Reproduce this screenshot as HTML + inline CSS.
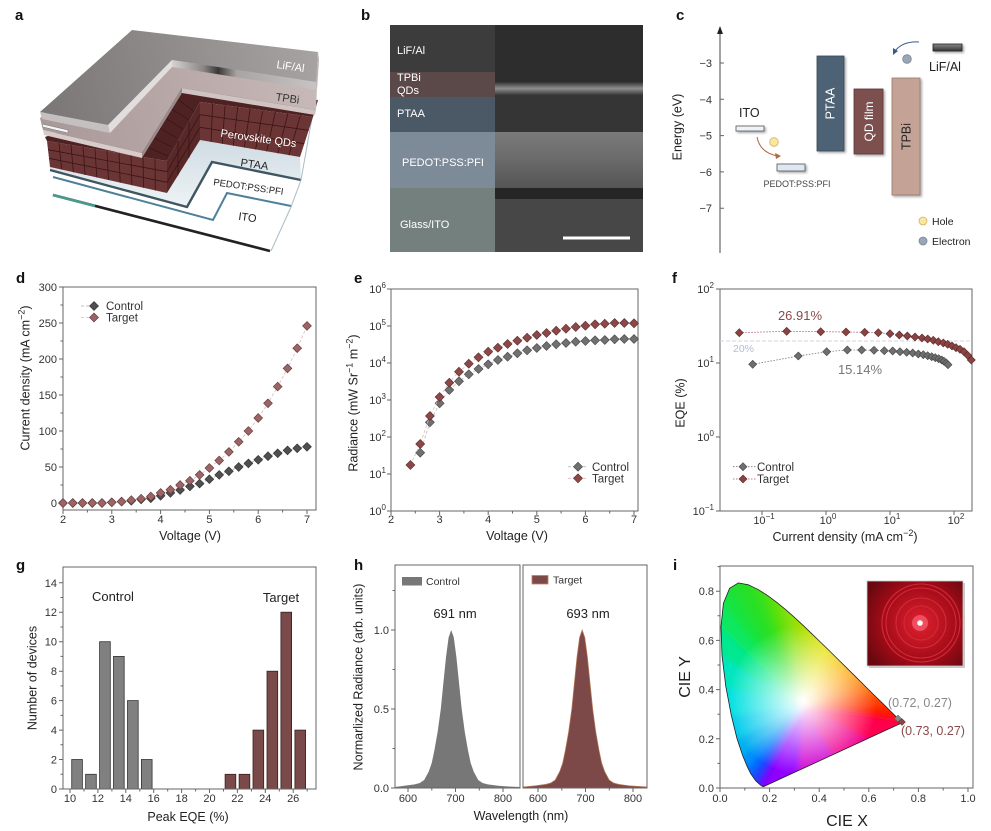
<!DOCTYPE html>
<html><head><meta charset="utf-8"><style>
html,body{margin:0;padding:0;background:#fff;}
svg{display:block;}
text{font-family:"Liberation Sans",Arial,sans-serif;}
.pl{font-size:15px;font-weight:bold;fill:#111;}
.tk{font-size:11px;fill:#333;}
.at{font-size:12.5px;fill:#222;}
.fr{fill:none;stroke:#666;stroke-width:1;}
.tc{stroke:#666;stroke-width:1;fill:none;}
</style></head><body>
<svg width="991" height="831" viewBox="0 0 991 831" xmlns="http://www.w3.org/2000/svg">
<defs>
<marker id="mdC" markerWidth="10" markerHeight="10" refX="5" refY="5" markerUnits="userSpaceOnUse"><path d="M5,0.6L9.4,5L5,9.4L0.6,5Z" fill="#4f4f4f" stroke="#2e2e2e" stroke-width="0.6"/></marker>
<marker id="mdT" markerWidth="10" markerHeight="10" refX="5" refY="5" markerUnits="userSpaceOnUse"><path d="M5,0.6L9.4,5L5,9.4L0.6,5Z" fill="#9c6464" stroke="#5e3434" stroke-width="0.6"/></marker>
<marker id="meC" markerWidth="10" markerHeight="10" refX="5" refY="5" markerUnits="userSpaceOnUse"><path d="M5,0.5L9.5,5L5,9.5L0.5,5Z" fill="#707070" stroke="#444" stroke-width="0.6"/></marker>
<marker id="meT" markerWidth="10" markerHeight="10" refX="5" refY="5" markerUnits="userSpaceOnUse"><path d="M5,0.5L9.5,5L5,9.5L0.5,5Z" fill="#8c4848" stroke="#5a2a2a" stroke-width="0.6"/></marker>
<marker id="mfC" markerWidth="10" markerHeight="10" refX="5" refY="5" markerUnits="userSpaceOnUse"><path d="M5,1L9,5L5,9L1,5Z" fill="#6e6e6e" stroke="#444" stroke-width="0.6"/></marker>
<marker id="mfT" markerWidth="10" markerHeight="10" refX="5" refY="5" markerUnits="userSpaceOnUse"><path d="M5,1L9,5L5,9L1,5Z" fill="#8a4242" stroke="#5a2a2a" stroke-width="0.6"/></marker>
<linearGradient id="lifTop" x1="40" y1="112" x2="320" y2="40" gradientUnits="userSpaceOnUse"><stop offset="0" stop-color="#7a7675"/><stop offset="0.5" stop-color="#908c8b"/><stop offset="1" stop-color="#a8a4a3"/></linearGradient>
<linearGradient id="lifFr" x1="172" y1="0" x2="316" y2="0" gradientUnits="userSpaceOnUse"><stop offset="0" stop-color="#d6d2d1"/><stop offset="0.22" stop-color="#8a8685"/><stop offset="0.32" stop-color="#3a3636"/><stop offset="0.45" stop-color="#a8a4a3"/><stop offset="1" stop-color="#c8c4c3"/></linearGradient>
<linearGradient id="tpTop" x1="40" y1="130" x2="320" y2="70" gradientUnits="userSpaceOnUse"><stop offset="0" stop-color="#a89898"/><stop offset="1" stop-color="#c8bab8"/></linearGradient>
<linearGradient id="ptaa" x1="0" y1="140" x2="0" y2="207" gradientUnits="userSpaceOnUse"><stop offset="0" stop-color="#cfdce3"/><stop offset="1" stop-color="#eef3f5"/></linearGradient>
<linearGradient id="pedotSem" x1="0" y1="132" x2="0" y2="188" gradientUnits="userSpaceOnUse"><stop offset="0" stop-color="#7a7a7a"/><stop offset="0.5" stop-color="#6a6a6a"/><stop offset="1" stop-color="#555"/></linearGradient>
<linearGradient id="brightLine" x1="0" y1="82" x2="0" y2="95" gradientUnits="userSpaceOnUse"><stop offset="0" stop-color="#333"/><stop offset="0.5" stop-color="#8e8e8e"/><stop offset="1" stop-color="#3a3a3a"/></linearGradient>
<linearGradient id="lifbar" x1="0" y1="44" x2="0" y2="51" gradientUnits="userSpaceOnUse"><stop offset="0" stop-color="#888"/><stop offset="1" stop-color="#333"/></linearGradient>
<filter id="sh" x="-20%" y="-20%" width="150%" height="150%"><feDropShadow dx="1.5" dy="1.5" stdDeviation="1.2" flood-opacity="0.35"/></filter>
<filter id="bl" x="-10%" y="-10%" width="120%" height="120%"><feGaussianBlur stdDeviation="3"/></filter>
<clipPath id="cie"><path d="M763.2,786.8L760.8,785.3L758.8,783.6L755.7,780.7L750.8,773.8L747.2,766.6L742.6,755.4L737,738.6L731.3,715.4L725.8,686.5L722,655.6L721,626.9L723.4,603.4L729.6,588.3L738.4,582.9L748.3,584.8L758.4,589.7L767.8,595.7L776.9,602.4L785.9,609.8L794.8,617.7L803.7,625.9L812.5,634.4L821.4,643L830.1,651.5L838.7,660L847.1,668.3L855.1,676.2L862.6,683.6L869.5,690.5L875.5,696.4L885.1,705.8L891.5,712.2L895.6,716.2L898.3,718.9L902.2,722.7Z"/></clipPath>
<radialGradient id="wp" cx="802.7" cy="700" r="75" gradientUnits="userSpaceOnUse"><stop offset="0" stop-color="#fff" stop-opacity="1"/><stop offset="0.35" stop-color="#fff" stop-opacity="0.65"/><stop offset="1" stop-color="#fff" stop-opacity="0"/></radialGradient>
<radialGradient id="photo" cx="920" cy="623" r="60" gradientUnits="userSpaceOnUse"><stop offset="0" stop-color="#e02030"/><stop offset="0.6" stop-color="#a50c18"/><stop offset="1" stop-color="#6a0810"/></radialGradient>
</defs>
<rect width="991" height="831" fill="#fff"/>

<!-- ===== Panel a ===== -->
<text class="pl" x="15" y="20">a</text>
<polygon points="50,167 167,193 200,140 300,157 301,180 212,162 187,207 50,170" fill="url(#ptaa)"/>
<polyline points="53,195 270,251" stroke="#222" stroke-width="2.6" fill="none"/>
<polyline points="53,195 95,206" stroke="#4a9a90" stroke-width="2.6" fill="none"/>
<polyline points="53,177 213,220 227,193 291,206" stroke="#4f8099" stroke-width="2" fill="none"/>
<polyline points="50,170 187,207 212,162 301,180" stroke="#3f5662" stroke-width="2.4" fill="none"/>
<polyline points="312,118 301,180 291,207 271,251" stroke="#a9bcc6" stroke-width="1" fill="none"/>
<polygon points="45,137 185,85 318,100 313,117 200,102 167,161 47,141" fill="#4e2222"/>
<polygon points="47,141 167,161 167,193 50,167" fill="#6b3535"/>
<polygon points="167,161 200,102 200,140 167,193" fill="#582727"/>
<polygon points="200,102 313,117 300,157 200,140" fill="#6b3535"/>
<g stroke="#3a1515" stroke-width="0.8" fill="none">
<path d="M59,143L61.7,169.6M71,145L73.4,172.2M83,147L85.1,174.8M95,149L96.8,177.4M107,151L108.5,180M119,153L120.2,182.6M131,155L131.9,185.2M143,157L143.6,187.8M155,159L155.3,190.4M48,149.7L167,171.7M49,158.3L167,182.3"/>
<path d="M212.6,103.7L211.1,141.9M225.1,105.3L222.2,143.8M237.7,107L233.3,145.7M250.2,108.7L244.4,147.6M262.8,110.3L255.6,149.5M275.3,112L266.7,151.4M287.9,113.7L277.8,153.3M300.4,115.3L288.9,155.2M200,114.7L308.7,130.3M200,127.3L304.3,143.7"/>
<path d="M178,141.3L178,175.3M189,121.7L189,157.7M167,171.7L200,114.7M167,182.3L200,127.3"/>
<path d="M176,97.8L194,111.4M170,107.5L189,120.3M164,117.3L183,129.2M158,127L177,138M152,136.8L172,147M146,146.5L168,156"/>
</g>
<polygon points="40,118 135,36 318,64 316,110 182,88 142,153 43,130" fill="url(#tpTop)"/>
<polygon points="43,130 142,153 142,158 44,135" fill="#d8cccb"/>
<polygon points="142,153 182,88 182,93 142,158" fill="#9a8a8a"/>
<polygon points="182,88 316,110 315,115 182,93" fill="#d0c4c2"/>
<polygon points="42,124 68,130 68,133 43,127" fill="#f4f4f4" stroke="#777" stroke-width="0.5"/>
<polygon points="40,112 132,30 318,52 316,82 172,60 108,125" fill="url(#lifTop)"/>
<polygon points="318,52 319,60 317,90 316,82" fill="#b8b4b3"/>
<polygon points="40,112 108,125 110,133 42,119" fill="#c4c0bf"/>
<polygon points="108,125 172,60 172,67 110,133" fill="#e2dedd"/>
<polygon points="172,60 316,82 317,90 172,67" fill="url(#lifFr)"/>
<g font-size="11" text-anchor="middle">
<text x="290" y="70" fill="#fff" transform="rotate(8 290 70)">LiF/Al</text>
<text x="287" y="102" fill="#333" transform="rotate(8 287 102)">TPBi</text>
<text x="258" y="142" fill="#fff" transform="rotate(8 258 142)">Perovskite QDs</text>
<text x="254" y="168" fill="#222" transform="rotate(8 254 168)">PTAA</text>
<text x="248" y="190" fill="#222" font-size="9.5" transform="rotate(8 248 190)">PEDOT:PSS:PFI</text>
<text x="247" y="221" fill="#222" transform="rotate(8 247 221)">ITO</text>
</g>

<!-- ===== Panel b ===== -->
<text class="pl" x="361" y="20">b</text>
<rect x="390" y="25" width="253" height="227" fill="#2d2d2d"/>
<rect x="495" y="82" width="148" height="13" fill="url(#brightLine)"/>
<rect x="495" y="95" width="148" height="37" fill="#353535"/>
<rect x="495" y="132" width="148" height="56" fill="url(#pedotSem)"/>
<rect x="495" y="188" width="148" height="11" fill="#262626"/>
<rect x="495" y="199" width="148" height="53" fill="#474747"/>
<rect x="390" y="25" width="105" height="47" fill="#3c3c3c"/>
<rect x="390" y="72" width="105" height="25" fill="#5b4848"/>
<rect x="390" y="97" width="105" height="35" fill="#4b5866"/>
<rect x="390" y="132" width="105" height="56" fill="#7d8a98"/>
<rect x="390" y="188" width="105" height="64" fill="#74807e"/>
<g fill="#fff" font-size="11">
<text x="397" y="54">LiF/Al</text>
<text x="397" y="81">TPBi</text>
<text x="397" y="94">QDs</text>
<text x="397" y="117">PTAA</text>
<text x="402" y="166">PEDOT:PSS:PFI</text>
<text x="400" y="228">Glass/ITO</text>
</g>
<rect x="563" y="236.5" width="67" height="3" fill="#fff"/>

<!-- ===== Panel c ===== -->
<text class="pl" x="676" y="20">c</text>
<line x1="720" y1="253" x2="720" y2="32" stroke="#444" stroke-width="1"/>
<polygon points="717,34 720,26 723,34" fill="#222"/>
<path class="tc" d="M720,63h4M720,99.3h4M720,135.6h4M720,171.9h4M720,208.2h4"/>
<g class="tk" text-anchor="end">
<text x="712" y="67">−3</text><text x="712" y="103.3">−4</text><text x="712" y="139.6">−5</text><text x="712" y="175.9">−6</text><text x="712" y="212.2">−7</text>
</g>
<text class="at" transform="translate(681.5,127) rotate(-90)" text-anchor="middle">Energy (eV)</text>
<g filter="url(#sh)">
<rect x="736" y="126" width="28" height="5" fill="#eef3f8" stroke="#555" stroke-width="0.8"/>
<rect x="777" y="164" width="28" height="7" fill="#dde8f2" stroke="#555" stroke-width="0.8"/>
<rect x="817" y="56" width="27" height="95" fill="#4d6275" stroke="#3a4a5a" stroke-width="0.8"/>
<rect x="854" y="89" width="29" height="65" fill="#7d5050" stroke="#5a3838" stroke-width="0.8"/>
<rect x="892" y="78" width="28" height="117" fill="#c4a296" stroke="#9a7a70" stroke-width="0.8"/>
<rect x="933" y="44" width="29" height="7" fill="url(#lifbar)" stroke="#222" stroke-width="0.8"/>
</g>
<text x="834.5" y="103.5" fill="#fff" font-size="12.5" text-anchor="middle" transform="rotate(-90 834.5 103.5)">PTAA</text>
<text x="873" y="121.5" fill="#fff" font-size="12" text-anchor="middle" transform="rotate(-90 873 121.5)">QD film</text>
<text x="910.5" y="136.5" fill="#222" font-size="12.5" text-anchor="middle" transform="rotate(-90 910.5 136.5)">TPBi</text>
<text x="739" y="117" font-size="12.5" fill="#222">ITO</text>
<text x="797" y="187" font-size="9" fill="#444" text-anchor="middle">PEDOT:PSS:PFI</text>
<text x="929" y="71" font-size="12.5" fill="#222">LiF/Al</text>
<circle cx="774" cy="142" r="4.3" fill="#fbe6a0" stroke="#d4b060" stroke-width="0.8"/>
<circle cx="907" cy="59" r="4.3" fill="#9aa5b5" stroke="#7a8595" stroke-width="0.8"/>
<path d="M757,137 Q760,153 778,156" stroke="#b06a40" stroke-width="1" fill="none"/>
<polygon points="781,156 775,153 776,159" fill="#b06a40"/>
<path d="M919,42 Q903,41 895,51" stroke="#3a5a8a" stroke-width="1" fill="none"/>
<polygon points="893,55 893,48 898,51" fill="#3a5a8a"/>
<circle cx="923" cy="221" r="4" fill="#fbe6a0" stroke="#d4b060" stroke-width="0.8"/>
<text x="932" y="225" font-size="10.5" fill="#222">Hole</text>
<circle cx="923" cy="241" r="4" fill="#9aa5b5" stroke="#7a8595" stroke-width="0.8"/>
<text x="932" y="245" font-size="10.5" fill="#222">Electron</text>

<!-- ===== Panel d ===== -->
<text class="pl" x="16" y="283">d</text>
<rect class="fr" x="63" y="287" width="253" height="223"/>
<path class="tc" d="M63,510v4M111.8,510v4M160.6,510v4M209.4,510v4M258.2,510v4M307,510v4M87.4,510v2.5M136.2,510v2.5M185,510v2.5M233.8,510v2.5M282.6,510v2.5M63,287h-4M63,323h-4M63,359h-4M63,395h-4M63,431h-4M63,467h-4M63,503h-4M63,305h-2.5M63,341h-2.5M63,377h-2.5M63,413h-2.5M63,449h-2.5M63,485h-2.5"/>
<g class="tk" text-anchor="end"><text x="57" y="291">300</text><text x="57" y="327">250</text><text x="57" y="363">200</text><text x="57" y="399">150</text><text x="57" y="435">100</text><text x="57" y="471">50</text><text x="57" y="507">0</text></g>
<g class="tk" text-anchor="middle"><text x="63" y="523">2</text><text x="111.8" y="523">3</text><text x="160.6" y="523">4</text><text x="209.4" y="523">5</text><text x="258.2" y="523">6</text><text x="307" y="523">7</text></g>
<text class="at" x="190" y="540" text-anchor="middle">Voltage (V)</text>
<text class="at" transform="translate(29.5,378) rotate(-90)" text-anchor="middle">Current density (mA cm<tspan dy="-5" font-size="9">−2</tspan><tspan dy="5">)</tspan></text>
<polyline fill="none" stroke="#aaa" stroke-width="0.8" stroke-dasharray="3,2" marker-start="url(#mdC)" marker-mid="url(#mdC)" marker-end="url(#mdC)" points="63,503 72.8,503 82.5,503 92.3,503 102,503 111.8,502.3 121.6,501.6 131.3,500.8 141.1,499.4 150.8,498.3 160.6,495.8 170.4,492.9 180.1,490 189.9,486.4 199.6,483.6 209.4,479.2 219.2,474.9 228.9,471.3 238.7,467 248.4,463.4 258.2,459.8 268,456.2 277.7,453.3 287.5,450.4 297.2,448.3 307,446.8"/>
<polyline fill="none" stroke="#e2b4bc" stroke-width="0.8" stroke-dasharray="3,2" marker-start="url(#mdT)" marker-mid="url(#mdT)" marker-end="url(#mdT)" points="63,503 72.8,503 82.5,503 92.3,503 102,503 111.8,502.3 121.6,501.6 131.3,500.1 141.1,498.7 150.8,496.5 160.6,492.9 170.4,489.7 180.1,485 189.9,480.7 199.6,474.9 209.4,468 219.2,460.5 228.9,451.9 238.7,441.8 248.4,431 258.2,418 268,403.3 277.7,386.6 287.5,368.4 297.2,348.2 307,325.9"/>
<line x1="81" y1="306" x2="101" y2="306" stroke="#aaa" stroke-width="0.8" stroke-dasharray="3,2"/>
<path d="M94,301.5l4.5,4.5l-4.5,4.5l-4.5,-4.5z" fill="#4f4f4f" stroke="#2e2e2e" stroke-width="0.6"/>
<text x="106" y="310" font-size="11.5" fill="#333">Control</text>
<line x1="81" y1="317.5" x2="101" y2="317.5" stroke="#e2b4bc" stroke-width="0.8" stroke-dasharray="3,2"/>
<path d="M94,313l4.5,4.5l-4.5,4.5l-4.5,-4.5z" fill="#9c6464" stroke="#5e3434" stroke-width="0.6"/>
<text x="106" y="321.5" font-size="11.5" fill="#333">Target</text>

<!-- ===== Panel e ===== -->
<text class="pl" x="354" y="283">e</text>
<rect class="fr" x="391" y="289" width="247" height="222"/>
<path class="tc" d="M391,511v4M439.6,511v4M488.2,511v4M536.8,511v4M585.4,511v4M634,511v4M415.3,511v2.5M463.9,511v2.5M512.5,511v2.5M561.1,511v2.5M609.7,511v2.5M391,289h-4M391,326h-4M391,363h-4M391,400h-4M391,437h-4M391,474h-4M391,511h-4"/>
<g class="tk" text-anchor="end">
<text x="386" y="293">10<tspan dy="-5" font-size="8">6</tspan></text>
<text x="386" y="330">10<tspan dy="-5" font-size="8">5</tspan></text>
<text x="386" y="367">10<tspan dy="-5" font-size="8">4</tspan></text>
<text x="386" y="404">10<tspan dy="-5" font-size="8">3</tspan></text>
<text x="386" y="441">10<tspan dy="-5" font-size="8">2</tspan></text>
<text x="386" y="478">10<tspan dy="-5" font-size="8">1</tspan></text>
<text x="386" y="515">10<tspan dy="-5" font-size="8">0</tspan></text>
</g>
<g class="tk" text-anchor="middle"><text x="391" y="523">2</text><text x="439.6" y="523">3</text><text x="488.2" y="523">4</text><text x="536.8" y="523">5</text><text x="585.4" y="523">6</text><text x="634" y="523">7</text></g>
<text class="at" x="517" y="540" text-anchor="middle">Voltage (V)</text>
<text class="at" transform="translate(357.5,403) rotate(-90)" text-anchor="middle">Radiance (mW Sr<tspan dy="-5" font-size="9">−1</tspan><tspan dy="5"> m</tspan><tspan dy="-5" font-size="9">−2</tspan><tspan dy="5">)</tspan></text>
<polyline fill="none" stroke="#bbb" stroke-width="0.8" stroke-dasharray="3,2" marker-start="url(#meC)" marker-mid="url(#meC)" marker-end="url(#meC)" points="420.2,452.7 429.9,422.3 439.6,403.3 449.3,390 459,381.3 468.8,374.3 478.5,369 488.2,364.3 497.9,360 507.6,356.7 517.4,353.3 527.1,350.3 536.8,348 546.5,346 556.2,344.3 566,343 575.7,341.7 585.4,341 595.1,340.3 604.8,340 614.6,339.3 624.3,339 634,339"/>
<polyline fill="none" stroke="#e0b8c0" stroke-width="0.8" stroke-dasharray="3,2" marker-start="url(#meT)" marker-mid="url(#meT)" marker-end="url(#meT)" points="410.4,465 420.2,444 429.9,416 439.6,397 449.3,382.7 459,371.7 468.8,363.7 478.5,357.3 488.2,351.7 497.9,347.7 507.6,344 517.4,340.7 527.1,337.7 536.8,335 546.5,333 556.2,330.7 566,328.7 575.7,327 585.4,325.7 595.1,324.3 604.8,323.7 614.6,323 624.3,323 634,323.3"/>
<line x1="568" y1="466.7" x2="588" y2="466.7" stroke="#bbb" stroke-width="0.8" stroke-dasharray="3,2"/>
<path d="M578,462.2l4.5,4.5l-4.5,4.5l-4.5,-4.5z" fill="#707070" stroke="#444" stroke-width="0.6"/>
<text x="592" y="471" font-size="11.5" fill="#333">Control</text>
<line x1="568" y1="478.3" x2="588" y2="478.3" stroke="#e0b8c0" stroke-width="0.8" stroke-dasharray="3,2"/>
<path d="M578,473.8l4.5,4.5l-4.5,4.5l-4.5,-4.5z" fill="#8c4848" stroke="#5a2a2a" stroke-width="0.6"/>
<text x="592" y="482.5" font-size="11.5" fill="#333">Target</text>

<!-- ===== Panel f ===== -->
<text class="pl" x="672" y="283">f</text>
<rect class="fr" x="720" y="289" width="252" height="222"/>
<path class="tc" d="M762,511v4M826,511v4M890,511v4M954,511v4M720,289h-4M720,363h-4M720,437h-4M720,511h-4"/>
<g class="tk" text-anchor="end">
<text x="714" y="293">10<tspan dy="-5" font-size="8">2</tspan></text>
<text x="714" y="367">10<tspan dy="-5" font-size="8">1</tspan></text>
<text x="714" y="441">10<tspan dy="-5" font-size="8">0</tspan></text>
<text x="714" y="515">10<tspan dy="-5" font-size="8">−1</tspan></text>
</g>
<g class="tk" text-anchor="middle">
<text x="764" y="524">10<tspan dy="-5" font-size="8">−1</tspan></text>
<text x="828" y="524">10<tspan dy="-5" font-size="8">0</tspan></text>
<text x="892" y="524">10<tspan dy="-5" font-size="8">1</tspan></text>
<text x="956" y="524">10<tspan dy="-5" font-size="8">2</tspan></text>
</g>
<text class="at" x="845" y="541" text-anchor="middle">Current density (mA cm<tspan dy="-5" font-size="9">−2</tspan><tspan dy="5">)</tspan></text>
<text class="at" transform="translate(684.5,403) rotate(-90)" text-anchor="middle">EQE (%)</text>
<line x1="720" y1="341" x2="972" y2="341" stroke="#d4d4d8" stroke-width="1" stroke-dasharray="4,2"/>
<text x="733" y="352" font-size="10.5" fill="#b4bcd4">20%</text>
<polyline fill="none" stroke="#777" stroke-width="0.8" stroke-dasharray="1.5,1.5" marker-start="url(#mfC)" marker-mid="url(#mfC)" marker-end="url(#mfC)" points="752.7,364.3 798.3,356 826.7,351.7 847.3,350 861.7,350 874,350.3 884.3,350.7 892.7,351 900,351.7 906.7,352.3 912.7,353 918.3,354 923.3,354.7 927.7,355.7 931.7,356.7 935.3,357.7 938.7,358.7 941.7,360 944,361.3 946.3,363 948,364.7"/>
<polyline fill="none" stroke="#b0506a" stroke-width="0.8" stroke-dasharray="1.5,1.5" marker-start="url(#mfT)" marker-mid="url(#mfT)" marker-end="url(#mfT)" points="739.3,332.7 786.7,331.3 820.7,331.7 846,332 864.7,332.3 878.3,332.7 890,333.7 899.3,335 907.3,336 915,337 922,338 927.7,339 933.3,340.3 938.3,341.7 943.3,343 947.7,344.3 952,346 956,347.7 960,349.3 964,351.7 967.7,355.3 971.3,360"/>
<text x="800" y="320" font-size="13" fill="#8a4a4a" text-anchor="middle">26.91%</text>
<text x="860" y="374" font-size="13" fill="#777" text-anchor="middle">15.14%</text>
<line x1="733" y1="466.7" x2="757" y2="466.7" stroke="#777" stroke-width="0.8" stroke-dasharray="1.5,1.5"/>
<path d="M743,462.7l4,4l-4,4l-4,-4z" fill="#6e6e6e" stroke="#444" stroke-width="0.6"/>
<text x="757" y="471" font-size="11.5" fill="#333">Control</text>
<line x1="733" y1="479" x2="757" y2="479" stroke="#b0506a" stroke-width="0.8" stroke-dasharray="1.5,1.5"/>
<path d="M743,475l4,4l-4,4l-4,-4z" fill="#8a4242" stroke="#5a2a2a" stroke-width="0.6"/>
<text x="757" y="483" font-size="11.5" fill="#333">Target</text>

<!-- ===== Panel g ===== -->
<text class="pl" x="16" y="570">g</text>
<g fill="#808080" stroke="#333" stroke-width="0.8">
<rect x="71.7" y="759.5" width="10.7" height="29.5"/>
<rect x="85.6" y="774.3" width="10.7" height="14.7"/>
<rect x="99.6" y="641.7" width="10.7" height="147.3"/>
<rect x="113.5" y="656.4" width="10.7" height="132.6"/>
<rect x="127.5" y="700.6" width="10.7" height="88.4"/>
<rect x="141.4" y="759.5" width="10.7" height="29.5"/>
</g>
<g fill="#7a4a4a" stroke="#3a2020" stroke-width="0.8">
<rect x="225.1" y="774.3" width="10.7" height="14.7"/>
<rect x="239.1" y="774.3" width="10.7" height="14.7"/>
<rect x="253" y="730.1" width="10.7" height="58.9"/>
<rect x="267" y="671.2" width="10.7" height="117.8"/>
<rect x="280.9" y="612.2" width="10.7" height="176.8"/>
<rect x="294.9" y="730.1" width="10.7" height="58.9"/>
</g>
<rect class="fr" x="63" y="567" width="253" height="222"/>
<path class="tc" d="M70,789v4M97.9,789v4M125.8,789v4M153.7,789v4M181.6,789v4M209.5,789v4M237.4,789v4M265.3,789v4M293.2,789v4M84,789v2.5M111.9,789v2.5M139.8,789v2.5M167.7,789v2.5M195.6,789v2.5M223.5,789v2.5M251.4,789v2.5M279.3,789v2.5M307.2,789v2.5M63,789h-4M63,759.5h-4M63,730.1h-4M63,700.6h-4M63,671.2h-4M63,641.7h-4M63,612.2h-4M63,582.8h-4M63,774.3h-2.5M63,744.8h-2.5M63,715.4h-2.5M63,685.9h-2.5M63,656.4h-2.5M63,627h-2.5M63,597.5h-2.5"/>
<g class="tk" text-anchor="end"><text x="57" y="793">0</text><text x="57" y="763.5">2</text><text x="57" y="734.1">4</text><text x="57" y="704.6">6</text><text x="57" y="675.2">8</text><text x="57" y="645.7">10</text><text x="57" y="616.2">12</text><text x="57" y="586.8">14</text></g>
<g class="tk" text-anchor="middle"><text x="70" y="802">10</text><text x="97.9" y="802">12</text><text x="125.8" y="802">14</text><text x="153.7" y="802">16</text><text x="181.6" y="802">18</text><text x="209.5" y="802">20</text><text x="237.4" y="802">22</text><text x="265.3" y="802">24</text><text x="293.2" y="802">26</text></g>
<text x="113" y="601" font-size="13" fill="#222" text-anchor="middle">Control</text>
<text x="281" y="602" font-size="13" fill="#222" text-anchor="middle">Target</text>
<text class="at" x="188" y="821" text-anchor="middle">Peak EQE (%)</text>
<text class="at" transform="translate(36.5,678) rotate(-90)" text-anchor="middle">Number of devices</text>

<!-- ===== Panel h ===== -->
<text class="pl" x="354" y="570">h</text>
<path fill="#777" d="M395,787L404.2,785.8L414.6,784.4L419.8,783L424.2,780L428.7,771.6L431.7,763.1L434.4,750.2L437.6,732.1L440.8,709L443.4,682.8L446,657.1L448.6,637.5L451.2,630L453.8,637.5L456.4,657.1L459,682.8L461.7,709L464.8,732.1L468,750.2L470.7,763.1L473.7,771.6L478.2,780L482.6,783L487.8,784.4L498.2,785.8L508.7,786.5L520,787L520,788L395,788Z"/>
<path fill="#7d4848" stroke="#b87a55" stroke-width="0.7" d="M523,787L535.2,785.8L545.6,784.4L550.8,783L555.2,780L559.7,771.6L562.7,763.1L565.4,750.2L568.6,732.1L571.8,709L574.4,682.8L577,657.1L579.6,637.5L582.2,630L584.8,637.5L587.4,657.1L590,682.8L592.7,709L595.8,732.1L599,750.2L601.7,763.1L604.7,771.6L609.2,780L613.6,783L618.8,784.4L629.2,785.8L639.7,786.5L647,787L647,788L523,788Z"/>
<rect class="fr" x="395" y="565" width="125" height="223"/>
<rect class="fr" x="523" y="565" width="124" height="223"/>
<path class="tc" d="M395,788h-4M395,709h-4M395,630h-4M395,748.5h-2.5M395,669.5h-2.5M395,590.5h-2.5M408,788v4M455.5,788v4M503,788v4M431.8,788v2.5M479.3,788v2.5M538,788v4M585.5,788v4M633,788v4M561.8,788v2.5M609.3,788v2.5"/>
<g class="tk" text-anchor="end"><text x="389" y="792">0.0</text><text x="389" y="713">0.5</text><text x="389" y="634">1.0</text></g>
<g class="tk" text-anchor="middle"><text x="408" y="802">600</text><text x="455.5" y="802">700</text><text x="503" y="802">800</text><text x="538" y="802">600</text><text x="585.5" y="802">700</text><text x="633" y="802">800</text></g>
<rect x="402" y="577" width="20" height="8.5" fill="#777"/>
<text x="426" y="585" font-size="10.5" fill="#333">Control</text>
<rect x="532" y="575.5" width="16" height="8.5" fill="#7d4848" stroke="#c08060" stroke-width="0.8"/>
<text x="553" y="583.5" font-size="10.5" fill="#333">Target</text>
<text x="455" y="618" font-size="13" fill="#222" text-anchor="middle">691 nm</text>
<text x="588" y="618" font-size="13" fill="#222" text-anchor="middle">693 nm</text>
<text class="at" x="521" y="820" text-anchor="middle">Wavelength (nm)</text>
<text class="at" transform="translate(362.5,677) rotate(-90)" text-anchor="middle">Normarlized Radiance (arb. units)</text>

<!-- ===== Panel i ===== -->
<text class="pl" x="673" y="570">i</text>
<g clip-path="url(#cie)">
<g filter="url(#bl)"><g transform="translate(802.7,706) scale(1.15) translate(-802.7,-706)" stroke-width="0.8" stroke-linejoin="round">
<path d="M802.7,706L763.2,786.8L760.8,785.3Z" fill="#7000ff" stroke="#7000ff"/>
<path d="M802.7,706L760.8,785.3L758.8,783.6Z" fill="#5a10ff" stroke="#5a10ff"/>
<path d="M802.7,706L758.8,783.6L755.7,780.7Z" fill="#3a20ff" stroke="#3a20ff"/>
<path d="M802.7,706L755.7,780.7L750.8,773.8Z" fill="#1848ff" stroke="#1848ff"/>
<path d="M802.7,706L750.8,773.8L747.2,766.6Z" fill="#0070ff" stroke="#0070ff"/>
<path d="M802.7,706L747.2,766.6L742.6,755.4Z" fill="#0090f8" stroke="#0090f8"/>
<path d="M802.7,706L742.6,755.4L737,738.6Z" fill="#00b0f0" stroke="#00b0f0"/>
<path d="M802.7,706L737,738.6L731.3,715.4Z" fill="#00ccec" stroke="#00ccec"/>
<path d="M802.7,706L731.3,715.4L725.8,686.5Z" fill="#00e0e0" stroke="#00e0e0"/>
<path d="M802.7,706L725.8,686.5L722,655.6Z" fill="#00e6c0" stroke="#00e6c0"/>
<path d="M802.7,706L722,655.6L721,626.9Z" fill="#00e890" stroke="#00e890"/>
<path d="M802.7,706L721,626.9L723.4,603.4Z" fill="#08e860" stroke="#08e860"/>
<path d="M802.7,706L723.4,603.4L729.6,588.3Z" fill="#18e440" stroke="#18e440"/>
<path d="M802.7,706L729.6,588.3L738.4,582.9Z" fill="#20e030" stroke="#20e030"/>
<path d="M802.7,706L738.4,582.9L748.3,584.8Z" fill="#28e028" stroke="#28e028"/>
<path d="M802.7,706L748.3,584.8L758.4,589.7Z" fill="#30e020" stroke="#30e020"/>
<path d="M802.7,706L758.4,589.7L767.8,595.7Z" fill="#40e018" stroke="#40e018"/>
<path d="M802.7,706L767.8,595.7L776.9,602.4Z" fill="#58e010" stroke="#58e010"/>
<path d="M802.7,706L776.9,602.4L785.9,609.8Z" fill="#70e010" stroke="#70e010"/>
<path d="M802.7,706L785.9,609.8L794.8,617.7Z" fill="#88e008" stroke="#88e008"/>
<path d="M802.7,706L794.8,617.7L803.7,625.9Z" fill="#a0e000" stroke="#a0e000"/>
<path d="M802.7,706L803.7,625.9L812.5,634.4Z" fill="#b8e000" stroke="#b8e000"/>
<path d="M802.7,706L812.5,634.4L821.4,643Z" fill="#d0e000" stroke="#d0e000"/>
<path d="M802.7,706L821.4,643L830.1,651.5Z" fill="#e4e000" stroke="#e4e000"/>
<path d="M802.7,706L830.1,651.5L838.7,660Z" fill="#f0d000" stroke="#f0d000"/>
<path d="M802.7,706L838.7,660L847.1,668.3Z" fill="#f8b800" stroke="#f8b800"/>
<path d="M802.7,706L847.1,668.3L855.1,676.2Z" fill="#ffa000" stroke="#ffa000"/>
<path d="M802.7,706L855.1,676.2L862.6,683.6Z" fill="#ff8800" stroke="#ff8800"/>
<path d="M802.7,706L862.6,683.6L869.5,690.5Z" fill="#ff7000" stroke="#ff7000"/>
<path d="M802.7,706L869.5,690.5L875.5,696.4Z" fill="#ff5800" stroke="#ff5800"/>
<path d="M802.7,706L875.5,696.4L885.1,705.8Z" fill="#ff4000" stroke="#ff4000"/>
<path d="M802.7,706L885.1,705.8L891.5,712.2Z" fill="#ff2800" stroke="#ff2800"/>
<path d="M802.7,706L891.5,712.2L895.6,716.2Z" fill="#ff1800" stroke="#ff1800"/>
<path d="M802.7,706L895.6,716.2L898.3,718.9Z" fill="#ff1010" stroke="#ff1010"/>
<path d="M802.7,706L898.3,718.9L902.2,722.7Z" fill="#ff0808" stroke="#ff0808"/>
<path d="M802.7,706L902.2,722.7L867.4,738.7Z" fill="#ff0050" stroke="#ff0050"/>
<path d="M802.7,706L867.4,738.7L832.7,754.8Z" fill="#f00090" stroke="#f00090"/>
<path d="M802.7,706L832.7,754.8L797.9,770.8Z" fill="#d000d0" stroke="#d000d0"/>
<path d="M802.7,706L797.9,770.8L763.2,786.8Z" fill="#9000ff" stroke="#9000ff"/>
</g></g>
<rect x="720" y="566" width="253" height="222" fill="url(#wp)"/>
</g>
<path fill="none" stroke="#222" stroke-width="0.8" d="M763.2,786.8L760.8,785.3L758.8,783.6L755.7,780.7L750.8,773.8L747.2,766.6L742.6,755.4L737,738.6L731.3,715.4L725.8,686.5L722,655.6L721,626.9L723.4,603.4L729.6,588.3L738.4,582.9L748.3,584.8L758.4,589.7L767.8,595.7L776.9,602.4L785.9,609.8L794.8,617.7L803.7,625.9L812.5,634.4L821.4,643L830.1,651.5L838.7,660L847.1,668.3L855.1,676.2L862.6,683.6L869.5,690.5L875.5,696.4L885.1,705.8L891.5,712.2L895.6,716.2L898.3,718.9L902.2,722.7Z"/>
<rect class="fr" x="720" y="566" width="253" height="222"/>
<path class="tc" d="M720,788v4M769.6,788v4M819.2,788v4M868.8,788v4M918.4,788v4M968,788v4M744.8,788v2.5M794.4,788v2.5M844,788v2.5M893.6,788v2.5M943.2,788v2.5M720,788h-4M720,738.8h-4M720,689.6h-4M720,640.4h-4M720,591.2h-4M720,763.4h-2.5M720,714.2h-2.5M720,665h-2.5M720,615.8h-2.5M720,566.6h-2.5"/>
<g class="tk" text-anchor="end"><text x="714" y="792">0.0</text><text x="714" y="742.8">0.2</text><text x="714" y="693.6">0.4</text><text x="714" y="644.4">0.6</text><text x="714" y="595.2">0.8</text></g>
<g class="tk" text-anchor="middle"><text x="720" y="802">0.0</text><text x="769.6" y="802">0.2</text><text x="819.2" y="802">0.4</text><text x="868.8" y="802">0.6</text><text x="918.4" y="802">0.8</text><text x="968" y="802">1.0</text></g>
<rect x="869" y="583" width="96" height="85" fill="#888" opacity="0.45"/>
<rect x="867" y="581" width="96" height="85" fill="url(#photo)" stroke="#ccc" stroke-width="0.8"/>
<g fill="none" stroke="#d42a3a" stroke-width="1.1">
<circle cx="921" cy="623" r="39"/><circle cx="921" cy="623" r="35"/><circle cx="921" cy="623" r="25"/><circle cx="921" cy="623" r="17"/>
</g>
<circle cx="920" cy="623" r="8" fill="#ff7080" opacity="0.6"/>
<circle cx="920" cy="623" r="2.8" fill="#fff"/>
<path d="M897,719l3.5,3.5l-3.5,3.5l-3.5,-3.5z" fill="#888" stroke="#555" stroke-width="0.5" transform="translate(1,-4)"/>
<path d="M902,718.5l3.5,3.5l-3.5,3.5l-3.5,-3.5z" fill="#8c4848" stroke="#5a2a2a" stroke-width="0.5"/>
<text x="888" y="707" font-size="12.5" fill="#888">(0.72, 0.27)</text>
<text x="901" y="735" font-size="12.5" fill="#8a4a4a">(0.73, 0.27)</text>
<text x="847" y="826" font-size="16" fill="#222" text-anchor="middle">CIE X</text>
<text transform="translate(690,677) rotate(-90)" font-size="16" fill="#222" text-anchor="middle">CIE Y</text>
</svg>
</body></html>
